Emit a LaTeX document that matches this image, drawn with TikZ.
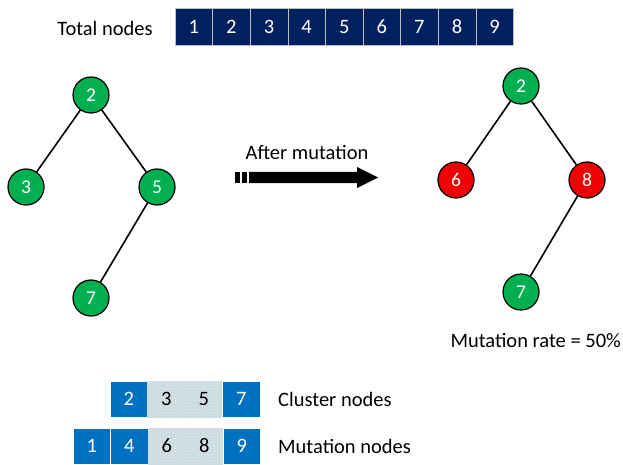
\documentclass[tikz,border=0pt]{standalone}
\usepackage{fontspec}
\setmainfont{Carlito}
\usetikzlibrary{patterns}

\definecolor{navy}{RGB}{0,32,96}
\definecolor{cgreen}{RGB}{0,176,80}
\definecolor{cred}{RGB}{240,0,0}
\definecolor{cblue}{RGB}{0,112,192}
\definecolor{cpale}{RGB}{202,219,224}

\tikzset{
  txt/.style={font=\fontsize{20.5}{22}\selectfont, inner sep=0pt},
  vertex/.style={circle, draw=black, line width=1.2pt, minimum size=36pt, inner sep=0pt,
                 text=white, font=\fontsize{19.5}{22}\selectfont},
  keep/.style={vertex, fill=cgreen},
  mutated/.style={vertex, fill=cred},
  edge/.style={line width=1.6pt},
  cell/.style={rectangle, draw=white!75!black, line width=0.5pt, minimum width=37.6pt,
               minimum height=37pt, inner sep=0pt, font=\fontsize{20.5}{22}\selectfont},
  allcell/.style={cell, fill=navy, text=white},
  bluecell/.style={cell, draw=white, fill=cblue, text=white, minimum width=37.5pt, minimum height=36pt},
  palecell/.style={cell, draw=cpale, fill=cpale, text=black, minimum width=37.5pt, minimum height=36pt,
                   postaction={pattern=crosshatch dots, pattern color=white!85!gray}}
}

\begin{document}
\begin{tikzpicture}[x=1pt,y=-1pt]
\useasboundingbox (0,0) rectangle (623,465);

% all nodes
\node [txt] (total) at (105,28) {Total nodes};
\foreach \i in {1,...,9}
  \node [allcell] (t\i) at ({193.8+37.6*(\i-1)},27) {\i};

% tree before mutation
\node [keep] (a2) at (91,95) {2};
\node [keep] (a3) at (26,187) {3};
\node [keep] (a5) at (157,187) {5};
\node [keep] (a7) at (91,298) {7};
\draw [edge] (a2) -- (a3);
\draw [edge] (a2) -- (a5);
\draw [edge] (a5) -- (a7);

% arrow
\node [txt] (after) at (307,152) {After mutation};
\fill (235,172) rectangle (240,183);
\fill (242,172) rectangle (247,183);
\fill (249,172) -- (357,172) -- (357,167) -- (378,177.5) -- (357,188) -- (357,183) -- (249,183) -- cycle;

% tree after mutation
\node [keep] (b2) at (521,86) {2};
\node [mutated] (b6) at (456,180) {6};
\node [mutated] (b8) at (587,180) {8};
\node [keep] (b7) at (521,292) {7};
\draw [edge] (b2) -- (b6);
\draw [edge] (b2) -- (b8);
\draw [edge] (b8) -- (b7);

\node [txt, anchor=east] (rate) at (621,340) {Mutation rate = 50\%};

% cluster / mutation rows
\node [bluecell] (c2) at (128.75,399) {2};
\node [palecell] (c3) at (166.25,399) {3};
\node [palecell] (c5) at (203.75,399) {5};
\node [bluecell] (c7) at (241.25,399) {7};
\node [txt, anchor=west] (clab) at (278,399) {Cluster nodes};

\node [bluecell] (m1) at (91.75,446) {1};
\node [bluecell] (m4) at (129.25,446) {4};
\node [palecell] (m6) at (166.75,446) {6};
\node [palecell] (m8) at (204.25,446) {8};
\node [bluecell] (m9) at (241.75,446) {9};
\node [txt, anchor=west] (mlab) at (278,446) {Mutation nodes};
\end{tikzpicture}
\end{document}
